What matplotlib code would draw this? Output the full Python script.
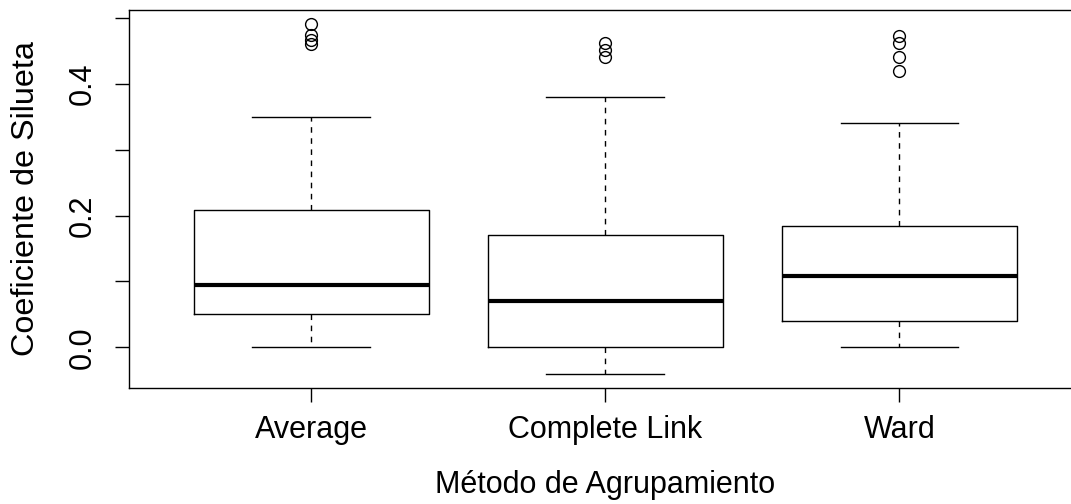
import matplotlib
matplotlib.use("Agg")
import matplotlib.pyplot as plt

plt.rcParams['font.family'] = ['Liberation Sans', 'DejaVu Sans']

categories = ["Average", "Complete Link", "Ward"]
whisker_low = [0.0, -0.040, 0.0]
q1 = [0.050, 0.0, 0.040]
medians = [0.094, 0.070, 0.109]
q3 = [0.209, 0.170, 0.184]
whisker_high = [0.350, 0.380, 0.340]
outliers = [
    [0.491, 0.474, 0.466, 0.460],
    [0.461, 0.451, 0.440],
    [0.472, 0.461, 0.440, 0.420],
]
y_ticks = [0.0, 0.1, 0.2, 0.3, 0.4, 0.5]
y_ticklabels = ["0.0", "", "0.2", "", "0.4", ""]

FS = 22

fig = plt.figure(figsize=(10.71, 5.04), dpi=100)
ax = fig.add_axes([129 / 1071, 116.3 / 504, 952.6 / 1071, 377.7 / 504])

stats = []
for i, name in enumerate(categories):
    stats.append(dict(label=name, whislo=whisker_low[i], q1=q1[i], med=medians[i],
                      q3=q3[i], whishi=whisker_high[i], fliers=outliers[i]))

ax.bxp(stats, positions=[1, 2, 3], widths=0.8, showfliers=True,
       boxprops=dict(color='black', linewidth=1.0),
       medianprops=dict(color='black', linewidth=3.0, solid_capstyle='butt'),
       whiskerprops=dict(color='black', linewidth=1.0, linestyle=(0, (4, 4))),
       capprops=dict(color='black', linewidth=1.0),
       capwidths=0.4,
       flierprops=dict(marker='o', markerfacecolor='none', markeredgecolor='black',
                       markersize=8.5, markeredgewidth=1.0, linestyle='none'))

ax.set_xlim(0.38, 3.62)
ax.set_ylim(-0.0612, 0.5118)
ax.set_yticks(y_ticks)
ax.set_yticklabels(y_ticklabels, rotation=90, va='center')
ax.set_xticks([1, 2, 3])
ax.set_xticklabels(categories)
ax.tick_params(axis='both', direction='out', length=10, width=1.0, labelsize=FS, colors='black')
ax.tick_params(axis='x', pad=10)
ax.tick_params(axis='y', pad=12.5)
for s in ax.spines.values():
    s.set_linewidth(1.0)
    s.set_color('black')

ax.set_xlabel("Método de Agrupamiento", fontsize=FS, labelpad=18)
ax.set_ylabel("Coeficiente de Silueta", fontsize=23.3, labelpad=19)

fig.savefig("out.png", dpi=100)
